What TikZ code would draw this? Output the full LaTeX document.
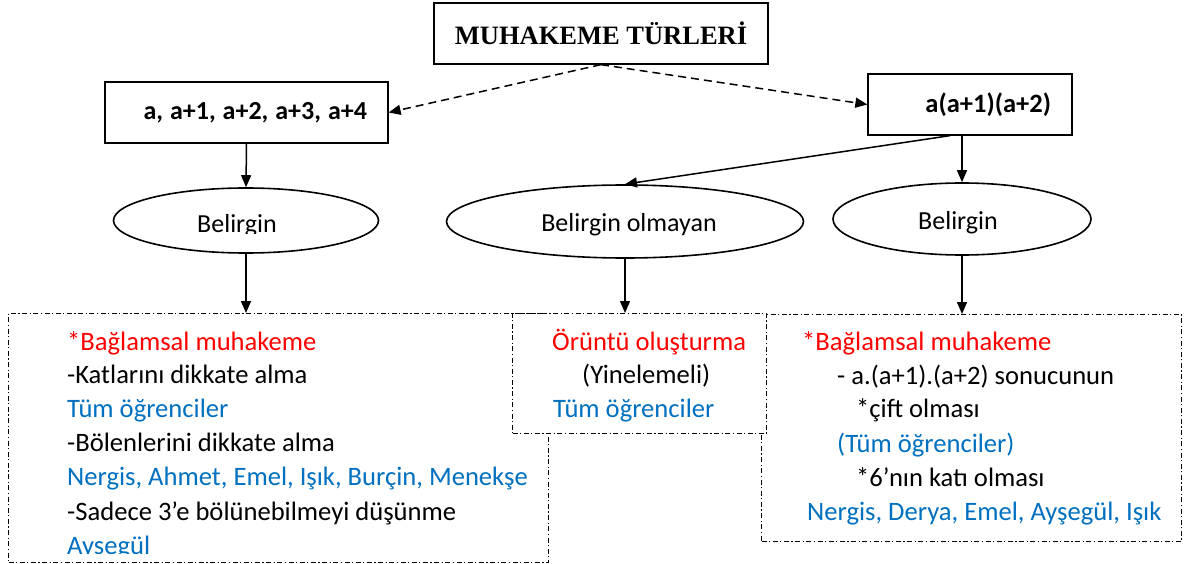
\documentclass[tikz,border=0pt]{standalone}
\usepackage{fontspec}
\setmainfont{Carlito}
\newfontfamily\titlefont{Liberation Serif}
\usepackage{tikz}
\usetikzlibrary{shapes.geometric,arrows.meta}
\definecolor{redtxt}{RGB}{255,0,0}
\definecolor{bluetxt}{RGB}{0,112,192}
\tikzset{
	box/.style={draw, line width=1.3pt, minimum height=61pt, inner sep=0pt},
	oval/.style={draw, ellipse, line width=1.6pt, inner sep=0pt},
	infobox/.style={draw, line width=1.1pt, dash pattern=on 5pt off 2.5pt on 1.2pt off 2.5pt, anchor=north west, inner sep=0pt, fill=white},
	arr/.style={-{Triangle[length=12pt,width=10pt]}, line width=1.5pt},
	darr/.style={arr, dash pattern=on 8pt off 5pt},
	txtline/.style={anchor=base west, inner sep=0pt, font=\fontsize{26.6}{30}\selectfont},
	ovaltxt/.style={anchor=base, inner sep=0pt, font=\fontsize{26}{30}\selectfont},
}

\begin{document}
\begin{tikzpicture}[x=1pt,y=-1pt]
	\useasboundingbox (0,0) rectangle (1189,564);
	% top row
	\node[box, minimum width=334pt, font=\titlefont\bfseries\fontsize{26.5}{30}\selectfont] (tbox) at (601,33.5) {MUHAKEME TÜRLERİ};
	\node[box, text width=241pt, inner xsep=21pt, align=right, font=\bfseries\fontsize{26}{30}\selectfont] (lbox) at (246.5,112.5) {\spaceskip=7pt a, a+1, a+2, a+3, a+4};
	\node[box, text width=162pt, inner xsep=21pt, align=right, font=\bfseries\fontsize{26.5}{30}\selectfont] (rbox) at (970,104.5) {a(a+1)(a+2)};
	% ovals
	\node[oval, minimum width=265pt, minimum height=65pt] (ell1) at (246,220.5) {};
	\node[oval, minimum width=357pt, minimum height=73pt] (ell2) at (625,221.5) {};
	\node[oval, minimum width=258pt, minimum height=72pt] (ell3) at (962,219) {};
	\begin{scope}
		\clip (100,180) rectangle (380,234);
		\node[ovaltxt] (ell1txt) at (237,233) {Belirgin};
	\end{scope}
	\node[ovaltxt] (ell2txt) at (629,232) {Belirgin olmayan};
	\node[ovaltxt] (ell3txt) at (958,230) {Belirgin};
	% bottom boxes
	\node[infobox, minimum width=540pt, minimum height=249pt] (lbot) at (8,313) {};
	\node[infobox, minimum width=420pt, minimum height=227pt] (rbot) at (761,314) {};
	\node[infobox, minimum width=254pt, minimum height=120pt] (mbot) at (512,313) {};
	\foreach \px/\py/\col/\txt [count=\i] in {
		67/350/redtxt/{*Bağlamsal muhakeme},
		67/383/black/{-Katlarını dikkate alma},
		67/417/bluetxt/{Tüm öğrenciler},
		67/451/black/{-Bölenlerini dikkate alma},
		67/485/bluetxt/{Nergis, Ahmet, Emel, Işık, Burçin, Menekşe},
		67/520/black/{-Sadece 3’e bölünebilmeyi düşünme},
		552/350/redtxt/{Örüntü oluşturma},
		582/383/black/{(Yinelemeli)},
		553/417/bluetxt/{Tüm öğrenciler},
		802/350/redtxt/{*Bağlamsal muhakeme},
		837/384/black/{- a.(a+1).(a+2) sonucunun},
		856/417/black/{*çift olması},
		837/452/bluetxt/{(Tüm öğrenciler)},
		856/486/black/{*6’nın katı olması},
		807/520/bluetxt/{Nergis, Derya, Emel, Ayşegül, Işık}}
		\node[txtline, text=\col] (ln\i) at (\px,\py) {\txt};
	\begin{scope}
		\clip (10,530) rectangle (546,553);
		\node[txtline, text=bluetxt] (lnlast) at (67,554) {Ayşegül};
	\end{scope}
	% connectors
	\draw[darr] (tbox.south) -- (lbox.east);
	\draw[darr] (tbox.south) -- (rbox.west);
	\draw[arr] (lbox.south) -- (ell1.north);
	\draw[arr] ([xshift=-20pt]rbox.south) -- (ell2.north);
	\draw[arr] (ell3.north |- rbox.south) -- (ell3.north);
	\draw[arr] (ell1.south) -- (ell1.south |- lbot.north);
	\draw[arr] (ell2.south) -- (ell2.south |- mbot.north);
	\draw[arr] (ell3.south) -- (ell3.south |- rbot.north);
\end{tikzpicture}
\end{document}
